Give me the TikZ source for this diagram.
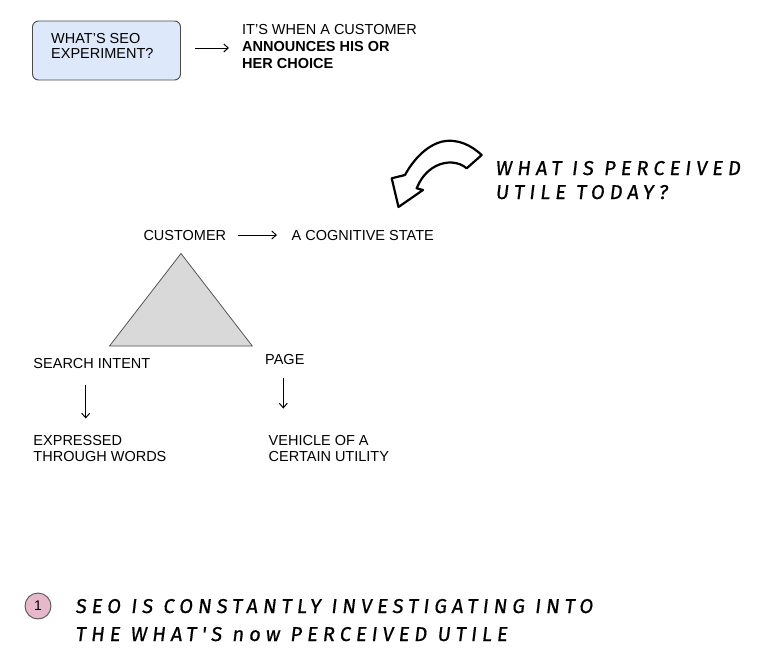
\documentclass[tikz,border=0pt]{standalone}
\usepackage{fontspec}
\setmainfont{Liberation Sans}
\newfontfamily\handfont[LetterSpace=25,FakeSlant=0.12,FakeBold=0.6]{Fira Sans}
\usetikzlibrary{arrows.meta}
\definecolor{boxfill}{HTML}{DDE8FB}
\definecolor{boxline}{HTML}{4A4A4A}
\definecolor{trifill}{HTML}{D9D9D9}
\definecolor{trline}{HTML}{555555}
\definecolor{pinkfill}{HTML}{E6B8CA}
\tikzset{
  txt/.style={anchor=base west, inner sep=0pt, font=\fontsize{14.5}{16}\selectfont, text=black},
  btxt/.style={txt, font=\fontsize{14.5}{16}\selectfont\bfseries},
  hand/.style={anchor=base west, inner sep=0pt, font=\fontsize{20}{22}\selectfont\handfont, text=black},
  tarrow/.style={line width=1pt, -{Straight Barb[length=4.5pt,width=8pt,line width=1pt]}},
  qbox/.style={draw=boxline, fill=boxfill, rounded corners=6pt, line width=0.9pt, minimum width=148pt, minimum height=59pt, inner sep=0pt},
}
\begin{document}
\begin{tikzpicture}[x=1pt,y=-1pt]
\useasboundingbox (0,0) rectangle (780,672);
% question box
\node[qbox] (q) at (106.5,50.5) {};
\node[txt] (q1) at (51,43) {WHAT'S SEO};
\node[txt] (q2) at (51,58.5) {EXPERIMENT?};
% answer
\node[txt] (a1) at (242,34) {IT'S WHEN A CUSTOMER};
\node[btxt] (a2) at (242,51) {ANNOUNCES HIS OR};
\node[btxt] (a3) at (242,68) {HER CHOICE};
\coordinate (ar1s) at (195,48);
\coordinate (ar1e) at (229,48);
\draw[tarrow] (ar1s) -- (ar1e);
% curved hand-drawn arrow
\draw[line width=2.2pt, line join=round, fill=white]
  (398.5,207) -- (391.7,178.3) -- (405,175)
  .. controls (412,162) and (425,146) .. (441.7,141.7)
  .. controls (458,138) and (472,146) .. (481.7,155)
  -- (466.7,168.3)
  .. controls (458,161) and (446,161) .. (436,166)
  .. controls (426,171) and (420,180) .. (416.7,188.3)
  -- (423,190) -- cycle;
\node[hand] (h1) at (495,175) {WHAT IS PERCEIVED};
\node[hand] (h2) at (495,199) {UTILE TODAY?};
% customer line
\node[txt] (cust) at (143.3,240) {CUSTOMER};
\node[txt] (cog) at (291.5,240) {A COGNITIVE STATE};
\coordinate (ar2s) at (238,235);
\coordinate (ar2e) at (277,235);
\draw[tarrow] (ar2s) -- (ar2e);
% triangle
\coordinate (tA) at (181,253.5);
\coordinate (tB) at (109.5,346);
\coordinate (tC) at (252.3,346);
\draw[draw=trline, fill=trifill, line width=0.8pt, line join=miter] (tA) -- (tB) -- (tC) -- cycle;
% lower labels
\node[txt] (si) at (33.3,368) {SEARCH INTENT};
\node[txt] (pg) at (265,364) {PAGE};
\coordinate (ar3s) at (85.7,385);
\coordinate (ar3e) at (85.7,418.5);
\draw[tarrow] (ar3s) -- (ar3e);
\coordinate (ar4s) at (283.3,378);
\coordinate (ar4e) at (283.3,408.5);
\draw[tarrow] (ar4s) -- (ar4e);
\node[txt] (ex1) at (33.3,445) {EXPRESSED};
\node[txt] (ex2) at (33.3,461.7) {THROUGH WORDS};
\node[txt] (ve1) at (268.5,445) {VEHICLE OF A};
\node[txt] (ve2) at (268.5,461.7) {CERTAIN UTILITY};
% bottom note
\node[circle, draw=trline, fill=pinkfill, line width=0.9pt, minimum size=26pt, inner sep=0pt, font=\fontsize{14}{16}\selectfont] (n1) at (38,606) {1};
\node[hand] (b1) at (75,613) {SEO IS CONSTANTLY INVESTIGATING INTO};
\node[hand] (b2) at (75,641) {THE WHAT'S now PERCEIVED UTILE};
\end{tikzpicture}
\end{document}
